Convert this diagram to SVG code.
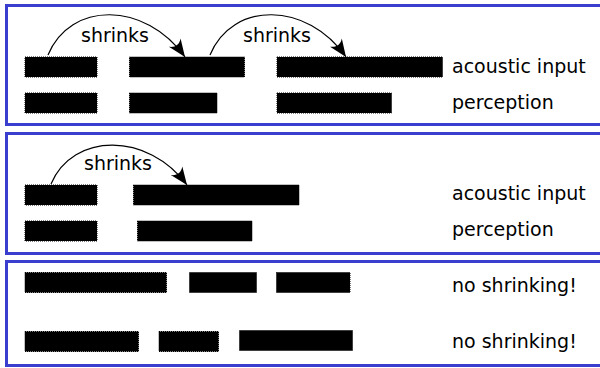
<svg xmlns="http://www.w3.org/2000/svg" width="600" height="368" viewBox="0 0 600 368">
<style>
.frame{fill:none;stroke:#3a3ecf;stroke-width:3}
.bar{fill:#000;stroke:#000;stroke-width:1;stroke-dasharray:1 1}
.lbl{font-family:"DejaVu Sans",Verdana,sans-serif;font-size:19px;fill:#000}
.arc{fill:none;stroke:#000;stroke-width:1.2;marker-end:url(#arr)}
</style>
<defs>
<marker id="arr" markerUnits="userSpaceOnUse" markerWidth="22" markerHeight="20" viewBox="-18 -9 20 18" refX="0" refY="0" orient="auto">
<path d="M0,0 L-16,-6.5 C-12,-2.2 -12,2.2 -16,6.5 Z" fill="#000"/>
</marker>
</defs>
<rect x="0" y="0" width="600" height="368" fill="#fff"/>
<g id="frames">
<rect class="frame" x="6.5" y="5.5" width="600" height="119"/>
<rect class="frame" x="6.5" y="133.5" width="600" height="120"/>
<rect class="frame" x="6.5" y="261.5" width="600" height="104"/>
</g>
<g id="panel1">
<g id="p1-in-1"><rect class="bar" x="25" y="57" width="72" height="20"/></g>
<g id="p1-in-2"><rect class="bar" x="129.5" y="57" width="115" height="20"/></g>
<g id="p1-in-3"><rect class="bar" x="277" y="57" width="165.5" height="20"/></g>
<g id="p1-pe-1"><rect class="bar" x="25" y="93" width="72" height="20"/></g>
<g id="p1-pe-2"><rect class="bar" x="129.5" y="93" width="87.5" height="20"/></g>
<g id="p1-pe-3"><rect class="bar" x="277" y="93" width="114.5" height="20"/></g>
<g id="p1-label-in"><text class="lbl" x="452" y="72.5">acoustic input</text></g>
<g id="p1-label-pe"><text class="lbl" x="452" y="108.5">perception</text></g>
<g id="p1-shr-1"><text class="lbl" x="81" y="41.5">shrinks</text></g>
<g id="p1-shr-2"><text class="lbl" x="243" y="41.5">shrinks</text></g>
</g>
<g id="panel2">
<g id="p2-in-1"><rect class="bar" x="25" y="185" width="72" height="20"/></g>
<g id="p2-in-2"><rect class="bar" x="133.5" y="185" width="165.5" height="20"/></g>
<g id="p2-pe-1"><rect class="bar" x="25" y="221" width="72" height="20"/></g>
<g id="p2-pe-2"><rect class="bar" x="137.5" y="221" width="114.5" height="20"/></g>
<g id="p2-label-in"><text class="lbl" x="452" y="200">acoustic input</text></g>
<g id="p2-label-pe"><text class="lbl" x="452" y="236">perception</text></g>
<g id="p2-shr-1"><text class="lbl" x="84" y="169.5">shrinks</text></g>
</g>
<g id="panel3">
<g id="p3-a-1"><rect class="bar" x="25" y="272.5" width="141.5" height="20"/></g>
<g id="p3-a-2"><rect class="bar" x="189.5" y="272.5" width="67" height="20"/></g>
<g id="p3-a-3"><rect class="bar" x="276.5" y="272.5" width="73.5" height="20"/></g>
<g id="p3-b-1"><rect class="bar" x="25" y="331.5" width="113.5" height="20"/></g>
<g id="p3-b-2"><rect class="bar" x="159" y="331.5" width="59.5" height="20"/></g>
<g id="p3-b-3"><rect class="bar" x="239.5" y="330.5" width="113" height="20"/></g>
<g id="p3-label-a"><text class="lbl" x="452" y="292">no shrinking!</text></g>
<g id="p3-label-b"><text class="lbl" x="452" y="348">no shrinking!</text></g>
</g>
<g id="connectors">
<path class="arc" d="M48,55 C70,1 145,1 185,57"/>
<path class="arc" d="M210,55 C232,1 307,1 346,57"/>
<path class="arc" d="M51,184 C73,132 148,132 187,185"/>
</g>
</svg>
